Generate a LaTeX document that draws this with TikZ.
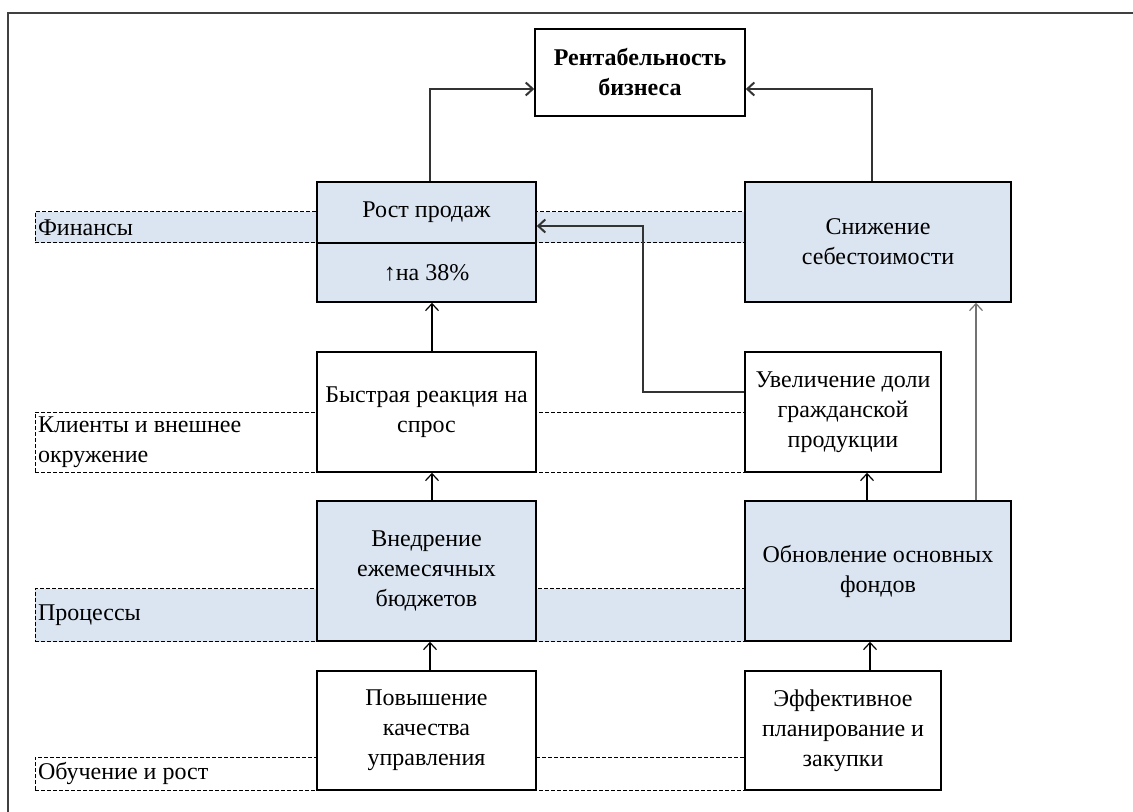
\documentclass[tikz,border=0pt]{standalone}
\usepackage{fontspec}
\setmainfont{Liberation Serif}
\usepackage{tikz}
\usetikzlibrary{positioning, arrows.meta}
\definecolor{bandblue}{RGB}{219,229,241}

\begin{document}
\begin{tikzpicture}[x=0.5pt, y=-0.5pt,
    >={Straight Barb[length=3.5pt, width=6.5pt]},
    every node/.style={font=\fontsize{12}{15}\selectfont, inner sep=0pt},
    box/.style={draw, line width=0.8pt, fill=white, align=center},
    bluebox/.style={box, fill=bandblue},
    band/.style={draw, dashed, dash pattern=on 2pt off 1pt, line width=0.5pt,
        inner xsep=1.5pt, text width=352pt, align=flush left, minimum width=355pt},
    conn/.style={->, line width=1pt, draw=black!80},
    up/.style={->, line width=0.6pt}]
    \useasboundingbox (0,0) rectangle (1133,812);
    \draw[line width=0.8pt, black!75] (8,812) -- (8,13) -- (1133,13);

    \node[band, fill=bandblue, minimum height=15.5pt] (fin) at (390,227.5) {Финансы};
    \node[band, minimum height=30pt] (cli) at (390,442) {Клиенты и внешнее\\окружение};
    \node[band, fill=bandblue, minimum height=26.5pt] (proc) at (390,615) {Процессы};
    \node[band, minimum height=16.5pt] (learn) at (390,773.5) {Обучение и рост};

    \node[box, minimum width=105pt, minimum height=43.5pt, font=\fontsize{12}{15}\selectfont\bfseries] (rent) at (640,72.5) {Рентабельность\\бизнеса};
    \node[bluebox, minimum width=109.5pt, minimum height=30.5pt] (rosttop) at (426.5,212.5) {Рост продаж};
    \node[bluebox, minimum width=109.5pt, minimum height=29.5pt] (rostbot) at (426.5,272.5) {↑на 38\%};
    \node[bluebox, minimum width=133pt, minimum height=60pt] (snizh) at (878,242) {Снижение\\себестоимости};
    \node[box, minimum width=109.5pt, minimum height=60pt] (byst) at (426.5,412) {Быстрая реакция на\\спрос};
    \node[box, minimum width=98pt, minimum height=60pt] (uvel) at (843,412) {Увеличение доли\\гражданской\\продукции};
    \node[bluebox, minimum width=109.5pt, minimum height=70pt] (vned) at (426.5,571) {Внедрение\\ежемесячных\\бюджетов};
    \node[bluebox, minimum width=133pt, minimum height=70pt] (obnov) at (878,571) {Обновление основных\\фондов};
    \node[box, minimum width=109.5pt, minimum height=59.5pt] (povysh) at (426.5,730.5) {Повышение\\качества\\управления};
    \node[box, minimum width=98pt, minimum height=59.5pt] (effekt) at (843,730.5) {Эффективное\\планирование и\\закупки};

    \coordinate (bend) at (643,226);

    \draw[conn] (rosttop.north -| 430,0) |- (rent.west |- 0,89);
    \draw[conn] (snizh.north -| 872,0) |- (rent.east |- 0,89);
    \draw[conn] (uvel.west |- 0,392) -| (bend) -- (rosttop.east |- bend);
    \draw[up] (byst.north -| 432,0) -- (rostbot.south -| 432,0);
    \draw[up] (vned.north -| 432,0) -- (byst.south -| 432,0);
    \draw[up] (povysh.north -| 430,0) -- (vned.south -| 430,0);
    \draw[up] (obnov.north -| 867,0) -- (uvel.south -| 867,0);
    \draw[up] (effekt.north -| 870,0) -- (obnov.south -| 870,0);
    \draw[up, black!55] (obnov.north -| 976,0) -- (snizh.south -| 976,0);
\end{tikzpicture}
\end{document}
